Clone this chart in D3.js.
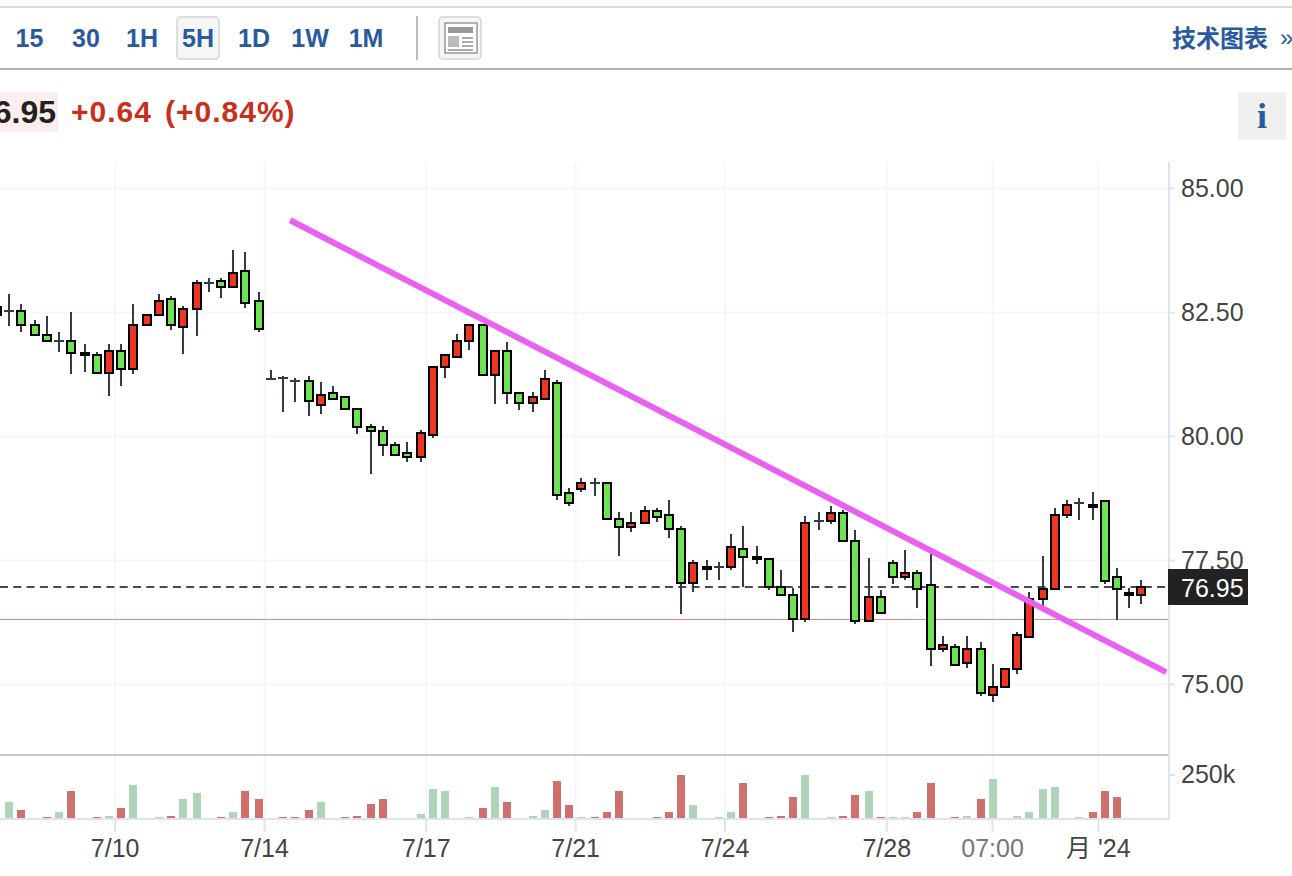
<!DOCTYPE html>
<html>
<head>
<meta charset="utf-8">
<script src="https://cdn.jsdelivr.net/npm/d3@7"></script>
<style>
    html, body { margin: 0; padding: 0; background: #fff; overflow: hidden; }
    text { font-family: "Liberation Sans", Arial, sans-serif; }
</style>
</head>
<body>
<div class="container"></div>
<script>
// candles, first one is cut off by the left edge
const OPENS = [82.45,82.53,82.53,82.25,82.05,81.93,81.93,81.64,81.64,81.28,81.72,81.36,82.25,82.45,82.77,82.21,82.57,83.09,83.13,83.01,83.34,82.73,81.16,81.18,81.12,81.12,80.64,80.88,80.80,80.55,80.19,80.11,79.83,79.67,79.59,80.03,81.40,81.60,81.93,82.25,81.24,81.72,80.88,80.68,80.76,81.08,78.86,78.94,79.06,79.06,78.34,78.18,78.26,78.50,78.42,78.14,77.05,77.33,77.37,77.37,77.73,77.53,77.53,76.97,76.80,76.32,78.30,78.30,78.46,77.89,76.28,76.76,77.45,77.17,77.25,77.01,75.72,75.76,75.43,75.72,74.79,74.95,75.31,75.96,76.72,76.93,78.42,78.66,78.58,78.70,77.17,76.80,76.80];
const HIGHS = [82.63,82.87,82.67,82.35,82.43,82.11,82.51,81.86,81.70,81.86,81.86,82.67,82.45,82.87,82.83,82.63,83.16,83.20,83.20,83.76,83.72,82.91,81.34,81.22,81.18,81.22,81.10,81.02,80.80,80.55,80.25,80.21,79.89,79.89,80.13,81.40,81.64,82.07,82.25,82.25,81.72,81.91,80.88,80.90,81.34,81.14,78.96,79.16,79.16,79.06,78.48,78.48,78.60,78.56,78.72,78.20,77.51,77.51,77.47,78.03,78.20,77.79,77.53,77.31,76.95,78.40,78.48,78.60,78.52,78.12,77.55,76.91,77.51,77.71,77.31,77.63,75.98,75.82,75.98,75.86,75.41,75.31,76.06,76.87,77.59,78.56,78.72,78.76,78.88,78.70,77.35,76.95,77.11];
const LOWS = [82.43,82.23,82.11,82.05,81.93,81.70,81.26,81.30,81.28,80.82,81.02,81.26,82.25,82.45,82.15,81.66,82.03,82.91,82.79,83.01,82.59,82.11,81.16,80.49,80.70,80.41,80.45,80.76,80.55,80.05,79.24,79.61,79.63,79.49,79.49,79.97,81.18,81.60,81.74,81.24,80.66,80.66,80.53,80.49,80.76,78.72,78.60,78.88,78.80,78.34,77.59,78.07,78.26,78.28,77.95,76.42,76.87,77.11,77.11,77.31,76.97,77.43,76.91,76.80,76.06,76.26,78.12,78.24,77.89,76.22,76.28,76.44,77.03,77.11,76.54,75.37,75.66,75.39,75.33,74.77,74.65,74.95,75.21,75.96,76.54,76.93,78.36,78.32,78.32,77.03,76.30,76.54,76.62];
const CLOSES = [82.61,82.53,82.25,82.05,81.93,81.93,81.68,81.68,81.28,81.72,81.36,82.25,82.45,82.73,82.25,82.57,83.09,83.09,83.01,83.30,82.69,82.17,81.16,81.18,81.12,80.72,80.84,80.76,80.55,80.19,80.11,79.83,79.63,79.59,80.07,81.40,81.64,81.93,82.25,81.24,81.72,80.88,80.68,80.80,81.16,78.82,78.66,79.06,79.06,78.34,78.18,78.26,78.50,78.38,78.14,77.05,77.45,77.37,77.37,77.77,77.57,77.57,76.97,76.80,76.32,78.26,78.30,78.46,77.89,76.28,76.76,76.44,77.17,77.25,76.93,75.72,75.80,75.39,75.72,74.83,74.95,75.31,76.00,76.72,76.93,78.42,78.62,78.66,78.62,77.09,76.93,76.84,76.97];

// volume in thousands, same order as the candles (1 = red bar)
const VOLUMES = [0,99,53,0,11,42,157,0,11,17,65,191,0,11,19,111,145,0,11,42,157,111,0,11,11,53,99,0,11,19,88,111,0,0,30,168,157,0,11,65,180,99,0,19,53,214,77,11,11,42,157,0,0,11,42,249,77,0,11,42,203,0,11,19,123,249,0,11,19,134,157,11,11,11,42,203,0,11,19,111,226,0,19,42,168,180,0,11,42,157,123,0,0];
const VOL_RED = [0,0,1,0,1,0,1,0,1,0,1,0,0,0,1,0,0,0,1,0,1,1,0,1,1,1,0,0,1,1,1,1,0,0,0,0,0,0,0,1,0,1,0,0,0,1,1,0,1,1,1,0,0,1,1,1,0,0,0,0,1,0,1,1,1,0,0,0,1,1,0,1,0,0,1,1,0,1,0,1,0,0,0,0,0,0,0,0,1,1,1,0,0];

const PRICE_TICKS = [75, 77.5, 80, 82.5, 85];
const VOL_TICKS = [250];
const DATE_TICKS = [8.5, 20.5, 33.5, 45.5, 57.5, 70.5, 79, 87.5];
const DATE_LABELS = ['7/10', '7/14', '7/17', '7/21', '7/24', '7/28', '07:00', "月 '24"];
const TREND_INDEX = [22.56, 92.95];
const TREND_PRICE = [84.36, 75.25];
const LAST_PRICE = 76.95;
const PREV_CLOSE = 76.33;

const PERIODS = ['15', '30', '1H', '5H', '1D', '1W', '1M'];
const PERIOD_X = [29.5, 86, 142, 198, 254, 310, 366];

const WIDTH = 1292;
const HEIGHT = 876;
const RIGHT = 1168;
const BLUE = '#2a5a9e';

const svg = d3.select('.container').append('svg')
    .attr('width', WIDTH)
    .attr('height', HEIGHT)
    .style('display', 'block');

const xScale = d3.scaleLinear().domain([-1, 91]).range([-3.045, 1141.895]);
const yScale = d3.scaleLinear().domain([75, 85]).range([684.5, 188.5]);
const volScale = d3.scaleLinear().domain([0, 250]).range([819, 775]);

// bars sit on odd pixels so the 2px strokes stay sharp
const snapX = i => 2 * Math.round((xScale(i) - 1) / 2) + 1;
const snapY = p => Math.round(yScale(p));

const indexes = d3.range(OPENS.length).map(i => i - 1);

//--header--
svg.append('line').attr('x1', 0).attr('x2', WIDTH).attr('y1', 7).attr('y2', 7)
    .attr('stroke', '#dcdcdc').attr('stroke-width', 2);
svg.append('line').attr('x1', 0).attr('x2', WIDTH).attr('y1', 69).attr('y2', 69)
    .attr('stroke', '#b0b0b0').attr('stroke-width', 2);

svg.append('rect').attr('x', 177).attr('y', 17).attr('width', 42).attr('height', 42).attr('rx', 4)
    .attr('fill', '#f6f6f6').attr('stroke', '#dddddd').attr('stroke-width', 2);

svg.selectAll('.period').data(PERIODS).enter().append('text')
    .attr('class', 'period')
    .attr('x', (d, i) => PERIOD_X[i])
    .attr('y', 47)
    .attr('text-anchor', 'middle')
    .attr('fill', BLUE)
    .style('font-size', '25px')
    .style('font-weight', 'bold')
    .text(d => d);

svg.append('line').attr('x1', 417).attr('x2', 417).attr('y1', 16).attr('y2', 60)
    .attr('stroke', '#bbbbbb').attr('stroke-width', 2);

// little layout icon
const icon = svg.append('g');
icon.append('rect').attr('x', 439).attr('y', 17).attr('width', 42).attr('height', 42).attr('rx', 4)
    .attr('fill', '#f6f6f6').attr('stroke', '#dddddd').attr('stroke-width', 2);
icon.append('rect').attr('x', 445).attr('y', 23).attr('width', 32).attr('height', 30)
    .attr('fill', '#fff').attr('stroke', '#999').attr('stroke-width', 1.5);
icon.append('rect').attr('x', 448).attr('y', 27).attr('width', 25).attr('height', 6).attr('fill', '#999');
icon.append('rect').attr('x', 448).attr('y', 36).attr('width', 11).attr('height', 11).attr('fill', '#bbb');
[37, 41, 45].forEach(y => {
    icon.append('rect').attr('x', 462).attr('y', y).attr('width', 11).attr('height', 2).attr('fill', '#aaa');
});
icon.append('rect').attr('x', 448).attr('y', 49).attr('width', 25).attr('height', 2).attr('fill', '#aaa');

svg.append('text').attr('x', 1172).attr('y', 47)
    .attr('fill', BLUE)
    .style('font-family', '"Noto Sans CJK SC"')
    .style('font-size', '24px')
    .style('font-weight', 'bold')
    .text('技术图表');
svg.append('text').attr('x', 1280).attr('y', 46)
    .attr('fill', BLUE)
    .style('font-size', '24px')
    .text('»');

//--quote line--
svg.append('rect').attr('x', 0).attr('y', 92).attr('width', 58).attr('height', 40).attr('fill', '#fbeeec');
svg.append('text').attr('x', 56).attr('y', 123).attr('text-anchor', 'end')
    .attr('fill', '#222')
    .style('font-size', '32px')
    .style('font-weight', 'bold')
    .text('76.95');
svg.append('text').attr('x', 71).attr('y', 122)
    .attr('fill', '#c8301c')
    .style('font-size', '30px')
    .style('font-weight', 'bold')
    .style('letter-spacing', '1px')
    .text('+0.64');
svg.append('text').attr('x', 165).attr('y', 122)
    .attr('fill', '#c8301c')
    .style('font-size', '30px')
    .style('font-weight', 'bold')
    .style('letter-spacing', '1px')
    .text('(+0.84%)');

svg.append('rect').attr('x', 1238).attr('y', 92).attr('width', 48).attr('height', 48).attr('fill', '#f0f0f0');
svg.append('text').attr('x', 1262).attr('y', 128).attr('text-anchor', 'middle')
    .attr('fill', BLUE)
    .style('font-family', '"Liberation Serif", serif')
    .style('font-size', '36px')
    .style('font-weight', 'bold')
    .text('i');

//--axes--
const xAxis = d3.axisBottom(xScale)
    .tickValues(DATE_TICKS)
    .tickSize(13)
    .tickPadding(7)
    .offset(0)
    .tickFormat((d, i) => DATE_LABELS[i]);

const yAxis = d3.axisRight(yScale)
    .tickValues(PRICE_TICKS)
    .tickSize(7)
    .tickPadding(6)
    .offset(0)
    .tickFormat(d3.format('.2f'));

const volAxis = d3.axisRight(volScale)
    .tickValues(VOL_TICKS)
    .tickSize(7)
    .tickPadding(6)
    .offset(0)
    .tickFormat(d => d + 'k');

svg.append('g').attr('transform', 'translate(0, 819)').call(xAxis).classed('xAxis', true);
svg.append('g').attr('transform', `translate(${RIGHT}, 0)`).call(yAxis).classed('yAxis', true);
svg.append('g').attr('transform', `translate(${RIGHT}, 0)`).call(volAxis).classed('volAxis', true);

svg.selectAll('.xAxis .domain, .yAxis .domain, .volAxis .domain').remove();

svg.selectAll('.xAxis .tick').append('line')
    .attr('y1', -656).attr('y2', 0)
    .attr('stroke', '#f6f6f8').attr('stroke-width', 2);
svg.selectAll('.yAxis .tick').append('line')
    .attr('x1', -RIGHT).attr('x2', 0)
    .attr('stroke', '#f6f6f8').attr('stroke-width', 2);

svg.selectAll('.xAxis .tick > line:first-child, .yAxis .tick > line:first-child, .volAxis .tick > line:first-child')
    .attr('stroke', '#e0e3eb').attr('stroke-width', 2);

svg.selectAll('.xAxis text, .yAxis text, .volAxis text')
    .attr('fill', '#444')
    .style('font-size', '25px');
svg.selectAll('.xAxis .tick text').filter(d => d === 79).attr('fill', '#777');
svg.selectAll('.xAxis .tick text').filter(d => d === 87.5)
    .style('font-family', '"Liberation Sans", "Noto Sans CJK SC", sans-serif');

svg.append('line').attr('x1', RIGHT + 1).attr('x2', RIGHT + 1).attr('y1', 162).attr('y2', 820)
    .attr('stroke', '#e0e3eb').attr('stroke-width', 2);
svg.append('line').attr('x1', 0).attr('x2', RIGHT).attr('y1', 819).attr('y2', 819)
    .attr('stroke', '#e0e3eb').attr('stroke-width', 2);
svg.append('line').attr('x1', 0).attr('x2', RIGHT).attr('y1', 755).attr('y2', 755)
    .attr('stroke', '#c8c8c8').attr('stroke-width', 2);

//--reference lines--
svg.append('line').attr('x1', 0).attr('x2', RIGHT)
    .attr('y1', Math.round(yScale(PREV_CLOSE)) + 0.5).attr('y2', Math.round(yScale(PREV_CLOSE)) + 0.5)
    .attr('stroke', '#e58a84').attr('stroke-width', 1);
svg.append('line').attr('x1', 0).attr('x2', RIGHT)
    .attr('y1', snapY(LAST_PRICE) - 1).attr('y2', snapY(LAST_PRICE) - 1)
    .attr('stroke', '#4a4a4a').attr('stroke-width', 2)
    .attr('stroke-dasharray', '8 5.3');

//--volume--
svg.append('g').selectAll('rect').data(indexes.filter(i => VOLUMES[i + 1] > 0)).enter().append('rect')
    .attr('x', i => snapX(i) - 4)
    .attr('width', 8)
    .attr('y', i => Math.round(volScale(VOLUMES[i + 1])))
    .attr('height', i => 818 - Math.round(volScale(VOLUMES[i + 1])))
    .attr('fill', i => VOL_RED[i + 1] ? '#d0706c' : '#b0d4ba');

//--candles--
const candles = svg.append('g');

candles.selectAll('.wick').data(indexes).enter().append('line')
    .attr('class', 'wick')
    .attr('x1', snapX).attr('x2', snapX)
    .attr('y1', i => snapY(HIGHS[i + 1]))
    .attr('y2', i => snapY(LOWS[i + 1]))
    .attr('stroke', '#333c40')
    .attr('stroke-width', 2);

const flat = i => OPENS[i + 1] === CLOSES[i + 1];

candles.selectAll('.flat').data(indexes.filter(flat)).enter().append('line')
    .attr('class', 'flat')
    .attr('x1', i => snapX(i) - 5)
    .attr('x2', i => snapX(i) + 5)
    .attr('y1', i => snapY(OPENS[i + 1]))
    .attr('y2', i => snapY(OPENS[i + 1]))
    .attr('stroke', '#333c40')
    .attr('stroke-width', 2);

candles.selectAll('.body').data(indexes.filter(i => !flat(i))).enter().append('rect')
    .attr('class', 'body')
    .attr('x', i => snapX(i) - 4)
    .attr('width', 8)
    .attr('y', i => snapY(Math.max(OPENS[i + 1], CLOSES[i + 1])))
    .attr('height', i => snapY(Math.min(OPENS[i + 1], CLOSES[i + 1])) - snapY(Math.max(OPENS[i + 1], CLOSES[i + 1])))
    .attr('fill', i => CLOSES[i + 1] > OPENS[i + 1] ? '#ee3524' : '#6fe252')
    .attr('stroke', '#000')
    .attr('stroke-width', 2);

//--trend line--
const trendLine = d3.line().x(i => xScale(TREND_INDEX[i])).y(i => yScale(TREND_PRICE[i]));
svg.append('path')
    .attr('d', trendLine([0, 1]))
    .attr('fill', 'none')
    .attr('stroke', '#ea60f0')
    .attr('stroke-width', 6);

//--last price tag--
svg.append('rect').attr('x', RIGHT).attr('y', 569).attr('width', 80).attr('height', 36).attr('fill', '#222');
svg.append('text').attr('x', 1181).attr('y', 597)
    .attr('fill', '#fff')
    .style('font-size', '25px')
    .text(LAST_PRICE.toFixed(2));
</script>
</body>
</html>
